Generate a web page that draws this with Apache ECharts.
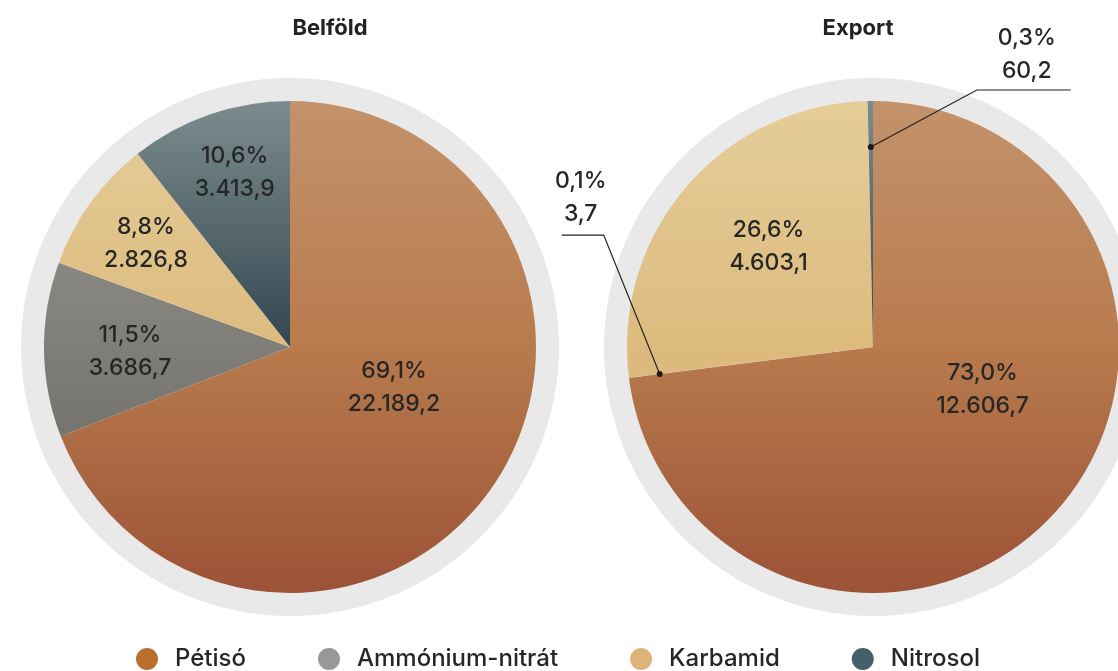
<!DOCTYPE html>
<html>
<head>
<meta charset="utf-8">
<title>Belföld / Export</title>
<script src="https://cdn.jsdelivr.net/npm/echarts@6/dist/echarts.min.js"></script>
<style>
  html, body { margin: 0; padding: 0; background: #fff; }
  #chart { width: 1118px; height: 671px; }
</style>
</head>
<body>
<div id="chart"></div>
<script>
// adatok
const categories = ['Pétisó', 'Ammónium-nitrát', 'Karbamid', 'Nitrosol'];
const belfoldValues = [22189.2, 3686.7, 2826.8, 3413.9];
const exportValues = [12606.7, 3.7, 4603.1, 60.2];
// a címkéken szereplő százalékok (ahogy a képen)
const belfoldPct = [69.1, 11.5, 8.8, 10.6];
const exportPct = [73.0, 0.1, 26.6, 0.3];
const titles = ['Belföld', 'Export'];

// elrendezés
const CY = 347;
const LEFT_CX = 290;
const RIGHT_CX = 873;
const PIE_R = 246;
const RING_R = 269;
const FONT = 'Inter, "Noto Sans", sans-serif';
const TEXT = '#262626';

const legendColors = ['#b9702f', '#97989a', '#dcb47a', '#44606b'];

// függőleges színátmenet a szeletekre (mindkét tortán ugyanaz a magasság)
function grad(stops) {
    return {
        type: 'linear', x: 0, y: CY - PIE_R, x2: 0, y2: CY + PIE_R, global: true,
        colorStops: stops.map(s => ({ offset: s[0], color: s[1] }))
    };
}
const sliceColors = [
    grad([[0, '#c3926b'], [0.5, '#b87b4d'], [1, '#9c5236']]),
    grad([[0, '#9a9992'], [0.5, '#7f7e78'], [1, '#62625d']]),
    grad([[0, '#e5cd98'], [0.55, '#dcb97c'], [1, '#d2a968']]),
    grad([[0, '#7c8c8e'], [0.5, '#33454f'], [1, '#22323c']])
];

// belső címkék eltolása az alapértelmezett helyhez képest
const belfoldOffsets = [[0, -31], [-34, 3], [-42, -30], [-14, -55]];
const exportOffsets = [[15, -41], null, [-9, -18], null];
// kifelé mutató címkék: pont sugara, törés, vonal vége, címke közepe (a ponthoz képest)
const exportCallouts = {
    1: { r: 215, elbow: [-56, -139], end: [-98, -139], label: [-79, -176] },
    3: { r: 200, elbow: [106, -57], end: [200, -57], label: [156, -92] }
};
const calloutIdx = Object.keys(exportCallouts).map(Number);

function fmtNum(v) {
    const parts = v.toFixed(1).split('.');
    return parts[0].replace(/\B(?=(\d{3})+(?!\d))/g, '.') + ',' + parts[1];
}
function fmtPct(p) {
    return p.toFixed(1).replace('.', ',') + '%';
}

const exportTotal = exportValues.reduce((a, b) => a + b, 0);
function exportMid(i) {
    let cum = 0;
    for (let k = 0; k < i; k++) cum += exportValues[k];
    return cum + exportValues[i] / 2;
}
function exportAnchor(i) {
    const r = exportCallouts[i].r;
    const a = exportMid(i) / exportTotal * Math.PI * 2;
    return [RIGHT_CX + r * Math.sin(a), CY - r * Math.cos(a)];
}

function buildData(values, offsets) {
    return values.map((v, i) => {
        const item = { name: categories[i], value: v, itemStyle: { color: sliceColors[i] } };
        if (offsets && offsets[i]) {
            item.label = { offset: offsets[i] };
        } else {
            item.label = { position: 'outside' };
        }
        return item;
    });
}

const labelStyle = {
    position: 'inside',
    color: TEXT,
    fontFamily: FONT,
    fontSize: 23,
    fontWeight: 500,
    lineHeight: 33
};

function ring(cx) {
    return {
        type: 'pie', silent: true, z: 1,
        center: [cx, CY], radius: [PIE_R - 6, RING_R],
        label: { show: false }, labelLine: { show: false },
        itemStyle: { color: '#e8e9e8' },
        emphasis: { disabled: true },
        data: [{ name: 'ring', value: 1 }]
    };
}

const myChart = echarts.init(document.getElementById('chart'));

const option = {
    animation: false,
    title: titles.map((t, i) => ({
        text: t,
        left: [330, 858][i],
        top: 17,
        padding: 0,
        textAlign: 'center',
        textStyle: { fontFamily: FONT, fontSize: 22, fontWeight: 'bold', color: '#222' }
    })),
    legend: {
        left: 131,
        top: 642,
        icon: 'circle',
        itemWidth: 22,
        itemHeight: 22,
        itemGap: 72,
        textStyle: { fontFamily: FONT, fontSize: 24, fontWeight: 500, color: TEXT, padding: [0, 0, 0, 12] },
        data: categories.map((c, i) => ({ name: c, itemStyle: { color: legendColors[i] } }))
    },
    polar: { center: [RIGHT_CX, CY], radius: PIE_R },
    angleAxis: { type: 'value', min: 0, max: exportTotal, startAngle: 90, clockwise: true, show: false },
    radiusAxis: { type: 'value', min: 0, max: PIE_R, show: false },
    series: [
        ring(LEFT_CX),
        ring(RIGHT_CX),
        {
            name: 'Belföld',
            type: 'pie', z: 2,
            center: [LEFT_CX, CY], radius: [0, PIE_R],
            startAngle: 90, clockwise: true,
            avoidLabelOverlap: false,
            emphasis: { disabled: true },
            itemStyle: { borderWidth: 0 },
            label: Object.assign({}, labelStyle, {
                formatter: p => fmtPct(belfoldPct[p.dataIndex]) + '\n' + fmtNum(p.value)
            }),
            labelLine: { show: false },
            data: buildData(belfoldValues, belfoldOffsets)
        },
        {
            name: 'Export',
            type: 'pie', z: 2,
            center: [RIGHT_CX, CY], radius: [0, PIE_R],
            startAngle: 90, clockwise: true,
            avoidLabelOverlap: false,
            emphasis: { disabled: true },
            itemStyle: { borderWidth: 0 },
            label: Object.assign({}, labelStyle, {
                formatter: p => fmtPct(exportPct[p.dataIndex]) + '\n' + fmtNum(p.value)
            }),
            labelLine: { show: false },
            // a kis szeletek címkéi a vezetővonal végéhez kerülnek
            labelLayout: function (params) {
                const c = exportCallouts[params.dataIndex];
                if (!c) return {};
                const a = exportAnchor(params.dataIndex);
                return {
                    x: a[0] + c.label[0],
                    y: a[1] + c.label[1],
                    align: 'center',
                    verticalAlign: 'middle'
                };
            },
            data: buildData(exportValues, exportOffsets)
        },
        {
            // vezetővonalak + pont a kis szeleteknél (polár koordinátákban)
            type: 'custom', coordinateSystem: 'polar', z: 5, silent: true,
            data: calloutIdx.map(i => [exportCallouts[i].r, exportMid(i)]),
            renderItem: function (params, api) {
                const p = api.coord([api.value(0), api.value(1)]);
                const c = exportCallouts[calloutIdx[params.dataIndex]];
                return {
                    type: 'group',
                    children: [
                        {
                            type: 'polyline',
                            shape: { points: [p, [p[0] + c.elbow[0], p[1] + c.elbow[1]], [p[0] + c.end[0], p[1] + c.end[1]]] },
                            style: { stroke: '#222', lineWidth: 1.2, fill: null }
                        },
                        {
                            type: 'circle',
                            shape: { cx: p[0], cy: p[1], r: 3 },
                            style: { fill: '#1c1c1c' }
                        }
                    ]
                };
            }
        }
    ]
};

myChart.setOption(option);
</script>
</body>
</html>
